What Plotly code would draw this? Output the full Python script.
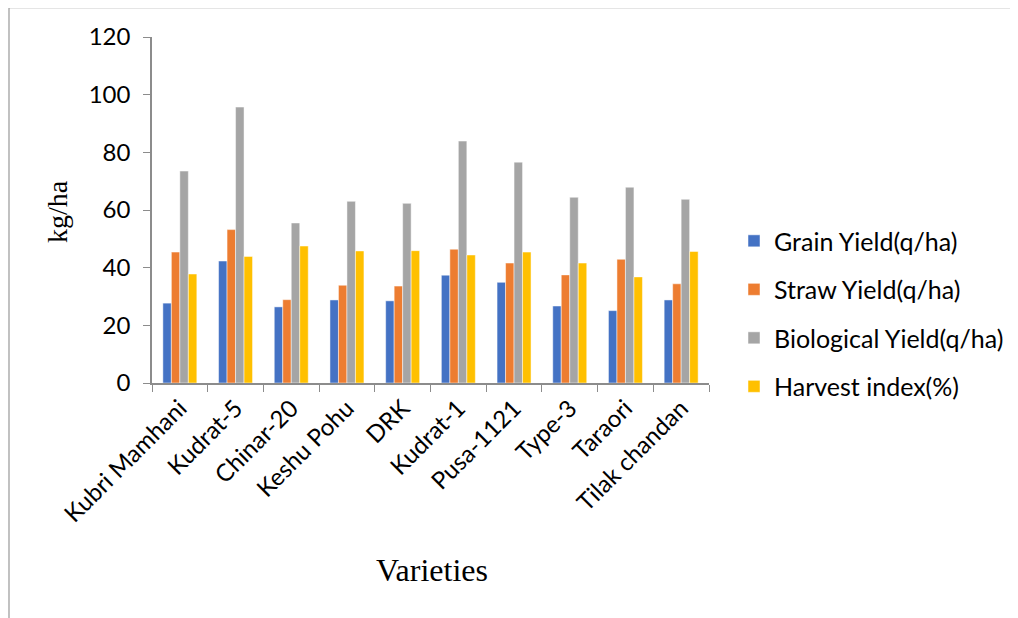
import plotly.graph_objects as go

varieties = ["Kubri Mamhani", "Kudrat-5", "Chinar-20", "Keshu Pohu", "DRK",
             "Kudrat-1", "Pusa-1121", "Type-3", "Taraori", "Tilak chandan"]
grain = [27.7, 42.3, 26.4, 28.8, 28.5, 37.4, 34.9, 26.7, 25.1, 28.8]
straw = [45.4, 53.2, 28.9, 33.9, 33.6, 46.4, 41.6, 37.5, 42.9, 34.4]
biological = [73.5, 95.7, 55.5, 63.0, 62.3, 83.9, 76.6, 64.4, 67.9, 63.7]
harvest = [37.8, 43.9, 47.5, 45.8, 45.9, 44.4, 45.4, 41.6, 36.8, 45.6]

series = [
    ("Grain Yield(q/ha)", grain, "#4472C4"),
    ("Straw Yield(q/ha)", straw, "#ED7D31"),
    ("Biological Yield(q/ha)", biological, "#A5A5A5"),
    ("Harvest index(%)", harvest, "#FFC000"),
]

OFF = 8  # page body margin
W, H = 1010, 610
# target screen pixels: plot x 152..709, y 36.5..383.3
L, T = 152 - OFF, 36.5 - OFF
pw, ph = 557, 346.8
R = W - L - pw
B = H - T - ph

fig = go.Figure()
for i, (name, vals, col) in enumerate(series):
    fig.add_trace(go.Bar(
        x=varieties, y=vals, name=name, legendgroup=f"g{i}",
        marker=dict(color=col, line=dict(color="rgba(255,255,255,0.6)", width=0.8)),
    ))

def px2x(p):
    return (p - OFF - L) / pw

def py2y(p):
    return (T + ph - (p - OFF)) / ph

fig.update_layout(
    width=W, height=H,
    margin=dict(l=L, r=R, t=T, b=B, autoexpand=False),
    paper_bgcolor="white", plot_bgcolor="white",
    barmode="group", bargap=0.39, bargroupgap=0,
    font=dict(family="Lato, Open Sans, sans-serif", color="#000000"),
    showlegend=True,
    legend=dict(
        x=px2x(734), y=py2y(218), xanchor="left", yanchor="top",
        font=dict(size=25), traceorder="grouped", tracegroupgap=13,
        itemwidth=30, bgcolor="rgba(0,0,0,0)",
    ),
    xaxis=dict(
        type="category", showline=True, linecolor="#8c8c8c", linewidth=1.5,
        ticks="outside", tickson="boundaries", ticklen=7, tickcolor="#8c8c8c",
        tickangle=-45, tickfont=dict(size=24, family="Lato, Open Sans, sans-serif"),
        showgrid=False, zeroline=False,
    ),
    yaxis=dict(
        range=[0, 120], dtick=20, showline=True, linecolor="#8c8c8c", linewidth=1.5,
        ticks="outside", ticklen=7, tickcolor="#8c8c8c", ticklabelstandoff=8,
        tickfont=dict(size=24, family="Lato, Open Sans, sans-serif"),
        showgrid=False, zeroline=False,
    ),
    annotations=[
        dict(text="kg/ha", x=px2x(57), y=py2y(212), xref="paper", yref="paper",
             xanchor="center", yanchor="middle",
             textangle=-90, showarrow=False,
             font=dict(family="Liberation Serif, Times New Roman, serif", size=28)),
        dict(text="Varieties", x=px2x(432), y=py2y(571), xref="paper", yref="paper",
             xanchor="center", yanchor="middle", showarrow=False,
             font=dict(family="Liberation Serif, Times New Roman, serif", size=32)),
    ],
    shapes=[
        dict(type="rect", xref="paper", yref="paper",
             x0=px2x(9), x1=px2x(1030), y0=py2y(640), y1=py2y(7),
             line=dict(color="#999999", width=1.2), fillcolor="rgba(0,0,0,0)", layer="below"),
    ],
)

fig.write_html("out.html")
